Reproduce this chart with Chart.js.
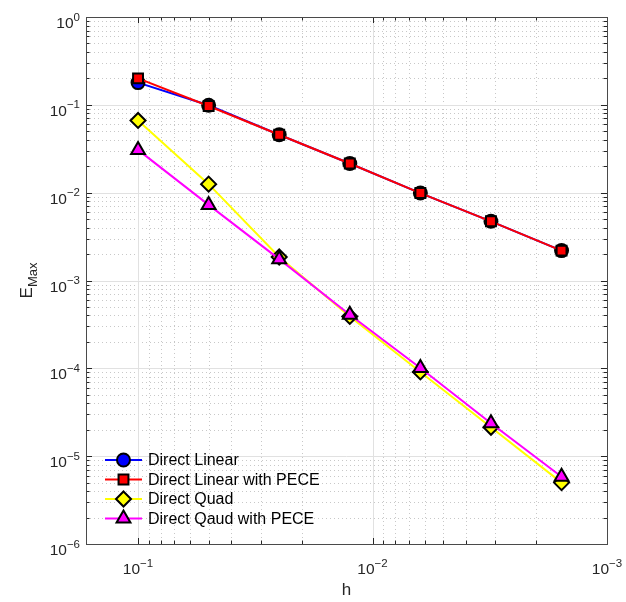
<!DOCTYPE html>
<html><head><meta charset="utf-8">
<script src="https://cdn.jsdelivr.net/npm/chart.js@4/dist/chart.umd.min.js"></script>
<style>html,body{margin:0;padding:0;background:#fff}#wrap{width:626px;height:602px}</style>
</head><body><div id="wrap"><canvas id="c" width="626" height="602"></canvas></div>
<script>
const h = [0.1, 0.05, 0.025, 0.0125, 0.00625, 0.003125, 0.0015625];
const directLinear = [0.179, 0.099, 0.0456, 0.0215, 0.0099, 0.00472, 0.00219];
const directLinearPECE = [0.200, 0.097, 0.0456, 0.0215, 0.0099, 0.00472, 0.00219];
const directQuad = [0.0664, 0.0125, 0.00185, 0.00039, 0.000091, 0.0000213, 0.0000050];
const directQuadPECE = [0.0307, 0.00726, 0.00175, 0.000408, 0.000101, 0.0000237, 0.00000584];
const seriesNames = ['Direct Linear', 'Direct Linear with PECE', 'Direct Quad', 'Direct Qaud with PECE'];
const seriesColors = ['#0000ff', '#ff0000', '#ffff00', '#ff00ff'];
const seriesMarkers = ['circle', 'rect', 'rectRot', 'triangle'];
const markerRadius = [6.5, 7, 7.5, 8];
const xTickExponents = [-1, -2, -3];
const yTickExponents = [0, -1, -2, -3, -4, -5, -6];
const xLabel = 'h';
const yLabelMain = 'E';
const yLabelSub = 'Max';

const allSeries = [directLinear, directLinearPECE, directQuad, directQuadPECE];
const datasets = allSeries.map((vals, i) => ({
  label: seriesNames[i],
  data: h.map((x, j) => ({x: x, y: vals[j]})),
  borderColor: seriesColors[i],
  backgroundColor: seriesColors[i],
  borderWidth: 2,
  pointStyle: seriesMarkers[i],
  pointRadius: markerRadius[i],
  pointHoverRadius: markerRadius[i],
  pointBackgroundColor: seriesColors[i],
  pointBorderColor: '#000',
  pointBorderWidth: 2,
  showLine: true,
  fill: false,
  tension: 0,
  order: 4 - i
}));

const FONT = '"Liberation Sans", Arial, Helvetica, sans-serif';
const AX = '#262626';

function powLabel(ctx, exp, x, y, align) {
  const base = '10';
  const sup = (exp < 0 ? '\u2212' : '') + Math.abs(exp);
  ctx.font = '15.5px ' + FONT;
  const wb = ctx.measureText(base).width;
  ctx.font = '11.5px ' + FONT;
  const ws = ctx.measureText(sup).width;
  const total = wb + ws;
  let x0 = align === 'right' ? x - total : x - total / 2;
  ctx.fillStyle = AX;
  ctx.textAlign = 'left';
  ctx.textBaseline = 'alphabetic';
  ctx.font = '15.5px ' + FONT;
  ctx.fillText(base, x0, y);
  ctx.font = '11.5px ' + FONT;
  ctx.fillText(sup, x0 + wb, y - 7.5);
}

function drawMarker(ctx, style, x, y, r, fill) {
  ctx.save();
  ctx.fillStyle = fill;
  ctx.strokeStyle = '#000';
  ctx.lineWidth = 2;
  ctx.beginPath();
  if (style === 'circle') {
    ctx.arc(x, y, r, 0, Math.PI * 2);
  } else if (style === 'rect') {
    const s = r * Math.SQRT1_2;
    ctx.rect(x - s, y - s, 2 * s, 2 * s);
  } else if (style === 'rectRot') {
    ctx.moveTo(x, y - r); ctx.lineTo(x + r, y); ctx.lineTo(x, y + r); ctx.lineTo(x - r, y); ctx.closePath();
  } else if (style === 'triangle') {
    ctx.moveTo(x, y - r); ctx.lineTo(x + r * Math.sin(Math.PI / 3), y + r * 0.5); ctx.lineTo(x - r * Math.sin(Math.PI / 3), y + r * 0.5); ctx.closePath();
  }
  ctx.fill();
  ctx.stroke();
  ctx.restore();
}

const matlabPlugin = {
  id: 'matlab',
  beforeDatasetsDraw(chart) {
    const ctx = chart.ctx, ca = chart.chartArea;
    const xs = chart.scales.x, ys = chart.scales.y;
    ctx.save();
    ctx.beginPath(); ctx.rect(ca.left, ca.top, ca.right - ca.left, ca.bottom - ca.top); ctx.clip();
    ctx.strokeStyle = '#c8c8c8';
    ctx.lineWidth = 1;
    ctx.setLineDash([1, 3]);
    for (let e = -4; e <= 0; e++) {
      for (let m = 2; m <= 9; m++) {
        const v = m * Math.pow(10, e);
        if (v > xs.min && v < xs.max) {
          const px = Math.round(xs.getPixelForValue(v)) + 0.5;
          ctx.beginPath(); ctx.moveTo(px, ca.top); ctx.lineTo(px, ca.bottom); ctx.stroke();
        }
      }
    }
    for (let e = -7; e <= 0; e++) {
      for (let m = 2; m <= 9; m++) {
        const v = m * Math.pow(10, e);
        if (v > ys.min && v < ys.max) {
          const py = Math.round(ys.getPixelForValue(v)) + 0.5;
          ctx.beginPath(); ctx.moveTo(ca.left, py); ctx.lineTo(ca.right, py); ctx.stroke();
        }
      }
    }
    ctx.setLineDash([]);
    ctx.strokeStyle = '#e1e1e1';
    xTickExponents.forEach(e => {
      const px = Math.round(xs.getPixelForValue(Math.pow(10, e))) + 0.5;
      ctx.beginPath(); ctx.moveTo(px, ca.top); ctx.lineTo(px, ca.bottom); ctx.stroke();
    });
    yTickExponents.forEach(e => {
      const py = Math.round(ys.getPixelForValue(Math.pow(10, e))) + 0.5;
      ctx.beginPath(); ctx.moveTo(ca.left, py); ctx.lineTo(ca.right, py); ctx.stroke();
    });
    ctx.restore();
  },
  afterDatasetsDraw(chart) {
    const ctx = chart.ctx, ca = chart.chartArea;
    const xs = chart.scales.x, ys = chart.scales.y;
    ctx.save();
    ctx.strokeStyle = AX;
    ctx.lineWidth = 1;
    const majLen = 6, minLen = 3.5;
    for (let e = -4; e <= 0; e++) {
      for (let m = 1; m <= 9; m++) {
        const v = m * Math.pow(10, e);
        if (v >= xs.min && v <= xs.max) {
          const px = Math.round(xs.getPixelForValue(v)) + 0.5;
          const L = m === 1 ? majLen : minLen;
          ctx.beginPath();
          ctx.moveTo(px, ca.bottom); ctx.lineTo(px, ca.bottom - L);
          ctx.moveTo(px, ca.top); ctx.lineTo(px, ca.top + L);
          ctx.stroke();
        }
      }
    }
    for (let e = -7; e <= 0; e++) {
      for (let m = 1; m <= 9; m++) {
        const v = m * Math.pow(10, e);
        if (v >= ys.min * 0.999 && v <= ys.max * 1.001) {
          const py = Math.round(ys.getPixelForValue(v)) + 0.5;
          const L = m === 1 ? majLen : minLen;
          ctx.beginPath();
          ctx.moveTo(ca.left, py); ctx.lineTo(ca.left + L, py);
          ctx.moveTo(ca.right, py); ctx.lineTo(ca.right - L, py);
          ctx.stroke();
        }
      }
    }
    ctx.strokeStyle = '#4a4a4a';
    ctx.strokeRect(Math.round(ca.left) + 0.5, Math.round(ca.top) + 0.5, Math.round(ca.right - ca.left), Math.round(ca.bottom - ca.top));
    yTickExponents.forEach(e => {
      const py = ys.getPixelForValue(Math.pow(10, e));
      powLabel(ctx, e, ca.left - 6, py + 11, 'right');
    });
    xTickExponents.forEach(e => {
      const px = xs.getPixelForValue(Math.pow(10, e));
      powLabel(ctx, e, px, ca.bottom + 30, 'center');
    });
    ctx.fillStyle = AX;
    ctx.font = '17px ' + FONT;
    ctx.textAlign = 'center';
    ctx.textBaseline = 'alphabetic';
    ctx.fillText(xLabel, (ca.left + ca.right) / 2, ca.bottom + 51);
    ctx.save();
    ctx.font = '17px ' + FONT;
    const wE = ctx.measureText(yLabelMain).width;
    ctx.font = '13px ' + FONT;
    const wS = ctx.measureText(yLabelSub).width;
    const tot = wE + wS;
    const cy = (ca.top + ca.bottom) / 2;
    ctx.translate(32, cy);
    ctx.rotate(-Math.PI / 2);
    ctx.textAlign = 'left';
    ctx.font = '17px ' + FONT;
    ctx.fillText(yLabelMain, -tot / 2, 0);
    ctx.font = '13px ' + FONT;
    ctx.fillText(yLabelSub, -tot / 2 + wE, 5);
    ctx.restore();
    const lx0 = ca.left + 19, lx1 = ca.left + 56, mx = ca.left + 37.5, tx = ca.left + 62;
    const rowsY = [ca.bottom - 84, ca.bottom - 64.5, ca.bottom - 45, ca.bottom - 25.5];
    chart.data.datasets.forEach((ds, i) => {
      const y = rowsY[i];
      ctx.strokeStyle = seriesColors[i];
      ctx.lineWidth = 2;
      ctx.beginPath(); ctx.moveTo(lx0, y); ctx.lineTo(lx1, y); ctx.stroke();
      drawMarker(ctx, seriesMarkers[i], mx, y, markerRadius[i], seriesColors[i]);
      ctx.fillStyle = '#000';
      ctx.font = '16px ' + FONT;
      ctx.textAlign = 'left';
      ctx.textBaseline = 'middle';
      ctx.fillText(ds.label, tx, y + 1);
    });
    ctx.restore();
  }
};

new Chart(document.getElementById('c'), {
  type: 'line',
  data: { datasets: datasets },
  options: {
    responsive: false,
    animation: false,
    devicePixelRatio: 1,
    layout: { padding: { left: 86, right: 19, top: 17, bottom: 58 } },
    plugins: { legend: { display: false }, tooltip: { enabled: false } },
    scales: {
      x: { type: 'logarithmic', reverse: true, min: 0.001, max: 0.1667, display: false },
      y: { type: 'logarithmic', min: 1e-6, max: 1, display: false }
    }
  },
  plugins: [matlabPlugin]
});
</script>
</body></html>
